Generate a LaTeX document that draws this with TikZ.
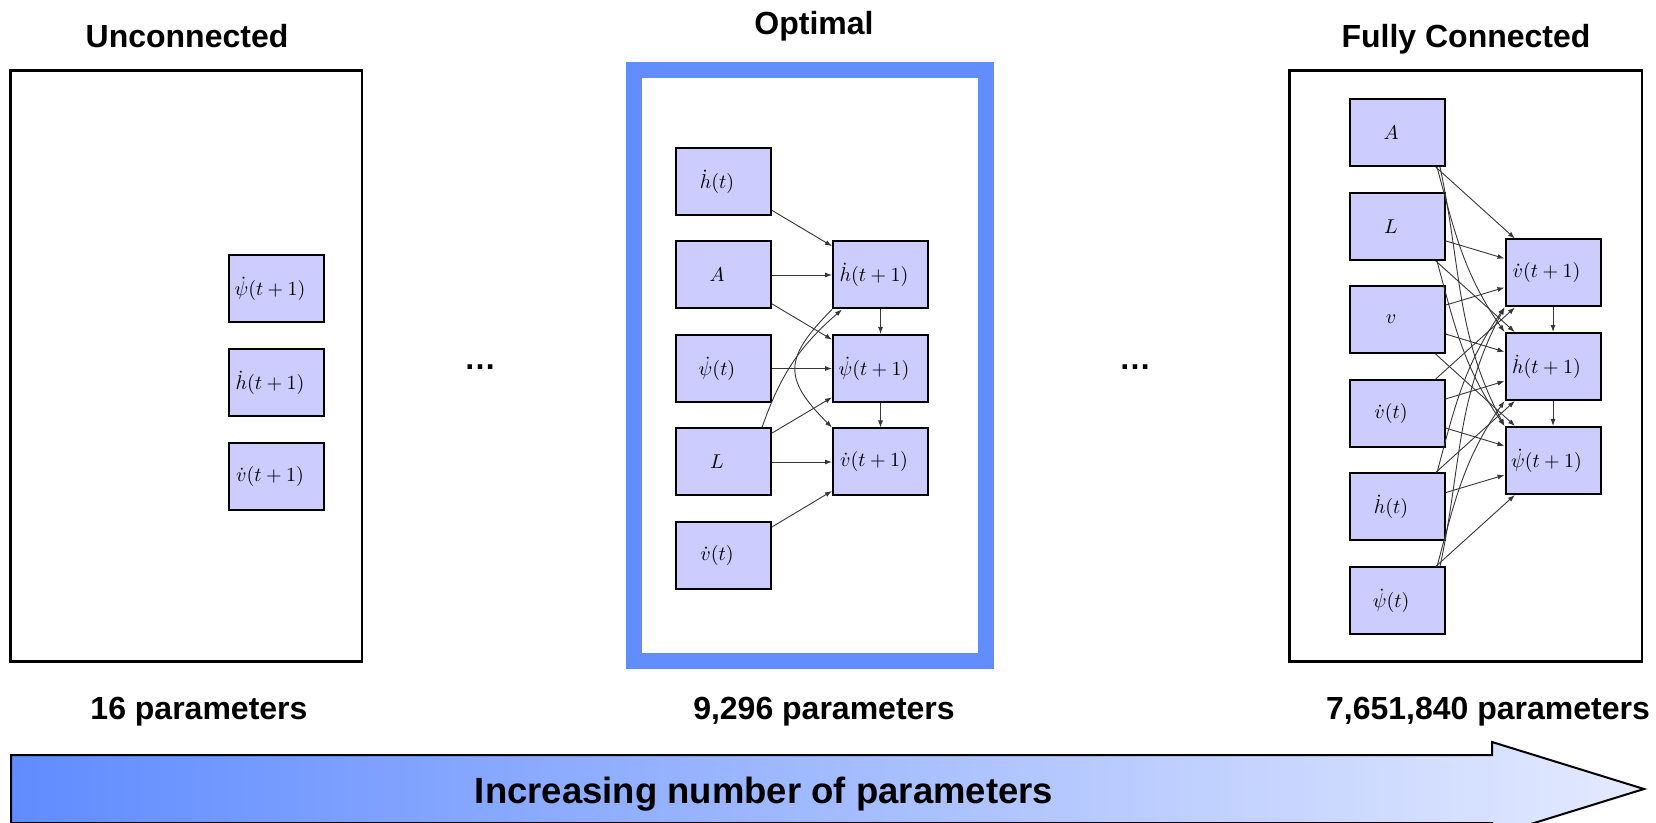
\documentclass[tikz,border=0pt]{standalone}
\usepackage{graphicx}
\usepackage[no-math]{fontspec}
\newfontfamily\arialf{Liberation Sans}
\usetikzlibrary{arrows.meta}
\definecolor{boxfill}{RGB}{204,204,255}
\definecolor{blueframe}{RGB}{98,141,255}
\definecolor{arrowL}{RGB}{96,140,255}
\definecolor{arrowR}{RGB}{228,234,255}
\definecolor{edgegray}{RGB}{55,55,55}
\tikzset{
  varbox/.style={draw=black, line width=2pt, fill=boxfill, minimum width=95pt,
    minimum height=67pt, inner sep=0pt},
  edge/.style={draw=edgegray, line width=0.9pt, -{Latex[length=7pt,width=5pt]}},
  ttl/.style={font=\arialf\bfseries\fontsize{32}{38}\selectfont, anchor=base},
  frm/.style={draw=black, line width=2.5pt},
}
\newcommand{\bx}[1]{\scalebox{2.0}{#1}\hspace*{13pt}}
\begin{document}
\begin{tikzpicture}[x=1pt,y=1pt]
\useasboundingbox (0,0) rectangle (1656,822);

% titles
\node[ttl] (t1) at (187,774.5) {Unconnected};
\node[ttl] (t2) at (814,787.5) {Optimal};
\node[ttl] (t3) at (1466,774.5) {Fully Connected};

% frames
\draw[frm] (10.5,751.5) rectangle (362,160.5);
\draw[draw=blueframe, line width=16pt] (634,752) rectangle (986,161);
\draw[frm] (1289.5,751.5) rectangle (1642,160.5);

% left panel
\node[varbox] (l-p1) at (276.5,533.5) {\bx{$\dot\psi(t+1)$}};
\node[varbox] (l-h1) at (276.5,439.5) {\bx{$\dot h(t+1)$}};
\node[varbox] (l-v1) at (276.5,345) {\bx{$\dot v(t+1)$}};

% middle panel
\node[varbox] (m-ht) at (723.5,640.5) {\bx{$\dot h(t)$}};
\node[varbox] (m-A)  at (723.5,547) {\bx{$A$}};
\node[varbox] (m-pt) at (723.5,453.5) {\bx{$\dot\psi(t)$}};
\node[varbox] (m-L)  at (723.5,360) {\bx{$L$}};
\node[varbox] (m-vt) at (723.5,266) {\bx{$\dot v(t)$}};
\node[varbox] (m-h1) at (880.5,547) {\bx{$\dot h(t+1)$}};
\node[varbox] (m-p1) at (880.5,453.5) {\bx{$\dot\psi(t+1)$}};
\node[varbox] (m-v1) at (880.5,360) {\bx{$\dot v(t+1)$}};

\draw[edge] (m-ht) -- (m-h1);
\draw[edge] (m-A) -- (m-h1);
\draw[edge] (m-A) -- (m-p1);
\draw[edge] (m-pt) -- (m-p1);
\draw[edge] (m-L) -- (m-p1);
\draw[edge] (m-L) -- (m-v1);
\draw[edge] (m-vt) -- (m-v1);
\draw[edge] ([xshift=-10pt]m-L.north east) to[bend left=15] ([xshift=10pt]m-h1.south west);
\draw[edge] (m-h1.south west) to[out=225,in=135,looseness=1.5] (m-v1.north west);
\draw[edge] (m-h1) -- (m-p1);
\draw[edge] (m-p1) -- (m-v1);

% right panel
\node[varbox] (r-A)  at (1397.5,689.5) {\bx{$A$}};
\node[varbox] (r-L)  at (1397.5,595.5) {\bx{$L$}};
\node[varbox] (r-v)  at (1397.5,502.5) {\bx{$v$}};
\node[varbox] (r-vt) at (1397.5,408.5) {\bx{$\dot v(t)$}};
\node[varbox] (r-ht) at (1397.5,315) {\bx{$\dot h(t)$}};
\node[varbox] (r-pt) at (1397.5,221) {\bx{$\dot\psi(t)$}};
\node[varbox] (r-v1) at (1553,549) {\bx{$\dot v(t+1)$}};
\node[varbox] (r-h1) at (1553,455.5) {\bx{$\dot h(t+1)$}};
\node[varbox] (r-p1) at (1553,361.5) {\bx{$\dot\psi(t+1)$}};

\draw[edge] (r-A) -- (r-v1);
\draw[edge] (r-L) -- (r-v1);
\draw[edge] (r-L) -- (r-h1);
\draw[edge] (r-v) -- (r-v1);
\draw[edge] (r-v) -- (r-h1);
\draw[edge] (r-v) -- (r-p1);
\draw[edge] (r-vt) -- (r-v1);
\draw[edge] (r-vt) -- (r-h1);
\draw[edge] (r-vt) -- (r-p1);
\draw[edge] (r-ht) -- (r-h1);
\draw[edge] (r-ht) -- (r-p1);
\draw[edge] (r-pt) -- (r-p1);
\draw[edge] ([xshift=-9pt]r-A.south east) to[out=-75,in=125] (r-h1.north west);
\draw[edge] ([xshift=-6pt]r-A.south east) to[out=-78,in=118] (r-p1.north west);
\draw[edge] ([xshift=-9pt]r-L.south east) to[out=-75,in=125] (r-p1.north west);
\draw[edge] ([xshift=-9pt]r-ht.north east) to[out=75,in=235] (r-v1.south west);
\draw[edge] ([xshift=-6pt]r-pt.north east) to[out=78,in=242] (r-v1.south west);
\draw[edge] ([xshift=-9pt]r-pt.north east) to[out=75,in=235] (r-h1.south west);
\draw[edge] (r-v1) -- (r-h1);
\draw[edge] (r-h1) -- (r-p1);

% ellipses
\node[ttl] (d1) at (480,452) {…};
\node[ttl] (d2) at (1135,452) {…};

% parameter counts
\node[ttl] (c1) at (199,103) {16 parameters};
\node[ttl] (c2) at (824,103) {9,296 parameters};
\node[ttl] (c3) at (1488,103) {7,651,840 parameters};

% bottom arrow
\shadedraw[left color=arrowL, right color=arrowR, draw=black, line width=2pt]
  (11,67) -- (1492,67) -- (1492,80) -- (1644,33) -- (1492,-14) -- (1492,-1) -- (11,-1) -- cycle;
\node[font=\arialf\bfseries\fontsize{36.5}{42}\selectfont, anchor=base] (inc) at (764,19) {Increasing number of parameters};
\end{tikzpicture}
\end{document}
